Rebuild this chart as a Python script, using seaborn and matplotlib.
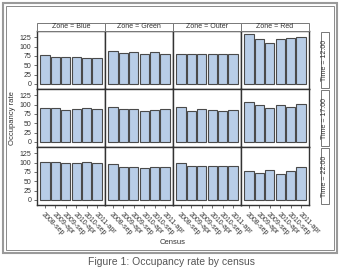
import matplotlib
matplotlib.use("Agg")
import matplotlib.pyplot as plt
import numpy as np
import pandas as pd
import seaborn as sns
from matplotlib.patches import Rectangle

census = ["2008-sep", "2009-apr", "2009-sep", "2010-apr", "2010-sep", "2011-apr"]
zones = ["Blue", "Green", "Outer", "Red"]
times = ["12:00", "17:00", "22:00"]

# Occupancy rate values
blue_1200 = [78, 72, 73, 72, 70, 70]
green_1200 = [88, 84, 85, 80, 85, 81]
outer_1200 = [80, 80, 79, 79, 79, 79]
red_1200 = [134, 121, 111, 120, 123, 126]

blue_1700 = [90, 91, 85, 89, 90, 88]
green_1700 = [93, 87, 87, 82, 85, 87]
outer_1700 = [93, 83, 88, 86, 83, 86]
red_1700 = [106, 98, 92, 98, 94, 101]

blue_2200 = [102, 102, 98, 100, 103, 99]
green_2200 = [95, 89, 89, 85, 88, 89]
outer_2200 = [98, 92, 92, 92, 92, 92]
red_2200 = [77, 73, 79, 69, 77, 87]

values = {
    ("12:00", "Blue"): blue_1200, ("12:00", "Green"): green_1200,
    ("12:00", "Outer"): outer_1200, ("12:00", "Red"): red_1200,
    ("17:00", "Blue"): blue_1700, ("17:00", "Green"): green_1700,
    ("17:00", "Outer"): outer_1700, ("17:00", "Red"): red_1700,
    ("22:00", "Blue"): blue_2200, ("22:00", "Green"): green_2200,
    ("22:00", "Outer"): outer_2200, ("22:00", "Red"): red_2200,
}
rows = []
for (t, z), vals in values.items():
    for c, v in zip(census, vals):
        rows.append({"Time": t, "Zone": z, "Census": c, "Rate": v})
df = pd.DataFrame(rows)

sns.set_style("white")
plt.rcParams["font.family"] = ["Liberation Sans", "DejaVu Sans"]

W, H = 342, 270
fig = plt.figure(figsize=(W / 100, H / 100), dpi=100)
fig.patch.set_facecolor("white")

def fx(px):
    return px / W

def fy(py):
    return 1 - py / H

col_edges = [37, 105, 173, 241, 309]
row_edges = [31, 89, 147, 205]
fill = "#B8CDE7"
edge = "#4a4a4a"
txtc = "#333333"

for r, t in enumerate(times):
    for c, z in enumerate(zones):
        x0, x1 = col_edges[c], col_edges[c + 1]
        y0, y1 = row_edges[r], row_edges[r + 1]
        ax = fig.add_axes([fx(x0), fy(y1), (x1 - x0) / W, (y1 - y0) / H])
        sub = df[(df.Time == t) & (df.Zone == z)]
        sns.barplot(data=sub, x="Census", y="Rate", order=census, color=fill,
                    saturation=1, edgecolor=edge, linewidth=0.8, width=0.9,
                    ax=ax, errorbar=None)
        ax.set_xlim(-0.75, 5.75)
        ax.set_ylim(-14, 142)
        ax.set_xlabel("")
        ax.set_ylabel("")
        ax.set_yticks([0, 25, 50, 75, 100, 125])
        for s in ax.spines.values():
            s.set_color("#333333")
            s.set_linewidth(1.0)
        ax.tick_params(axis="both", length=2.5, width=0.6, color="#555555",
                       labelsize=5, labelcolor=txtc, pad=1.5)
        ax.tick_params(axis="y", left=(c == 0), labelleft=(c == 0))
        ax.tick_params(axis="x", bottom=(r == 2), labelbottom=(r == 2))
        if r == 2:
            ax.set_xticks(range(len(census)))
            ax.set_xticklabels(census, rotation=-45, ha="left",
                               rotation_mode="anchor", fontsize=5)

# column strips
for c, z in enumerate(zones):
    x0, x1 = col_edges[c], col_edges[c + 1]
    fig.patches.append(Rectangle((fx(x0), fy(31)), (x1 - x0) / W, 8 / H,
                                 transform=fig.transFigure, facecolor="white",
                                 edgecolor="#777777", linewidth=0.7))
    fig.text(fx((x0 + x1) / 2), fy(27), f"Zone = {z}", ha="center",
             va="center", fontsize=5, color=txtc)

# row strips
for r, t in enumerate(times):
    y0, y1 = row_edges[r] + 1, row_edges[r + 1] - 1
    fig.patches.append(Rectangle((fx(320.5), fy(y1)), 8.5 / W, (y1 - y0) / H,
                                 transform=fig.transFigure, facecolor="white",
                                 edgecolor="#777777", linewidth=0.7))
    fig.text(fx(324.8), fy((y0 + y1) / 2), f"Time = {t}", ha="center",
             va="center", rotation=90, fontsize=5, color=txtc)

fig.text(fx(13), fy(118), "Occupancy rate", rotation=90, ha="center",
         va="center", fontsize=5.5, color=txtc)
fig.text(fx(173), fy(243), "Census", ha="center", va="center",
         fontsize=5.5, color=txtc)

# outer frames
fig.patches.append(Rectangle((fx(3), fy(253)), 334 / W, 250 / H,
                             transform=fig.transFigure, facecolor="none",
                             edgecolor="#9a9a9a", linewidth=1.5))
fig.patches.append(Rectangle((fx(6), fy(250)), 328 / W, 244 / H,
                             transform=fig.transFigure, facecolor="none",
                             edgecolor="#8a8a8a", linewidth=0.7))

fig.text(0.5, fy(262), "Figure 1: Occupancy rate by census", ha="center",
         va="center", fontsize=7.5, color="#555555")

fig.savefig("out.png", dpi=100, facecolor="white")
